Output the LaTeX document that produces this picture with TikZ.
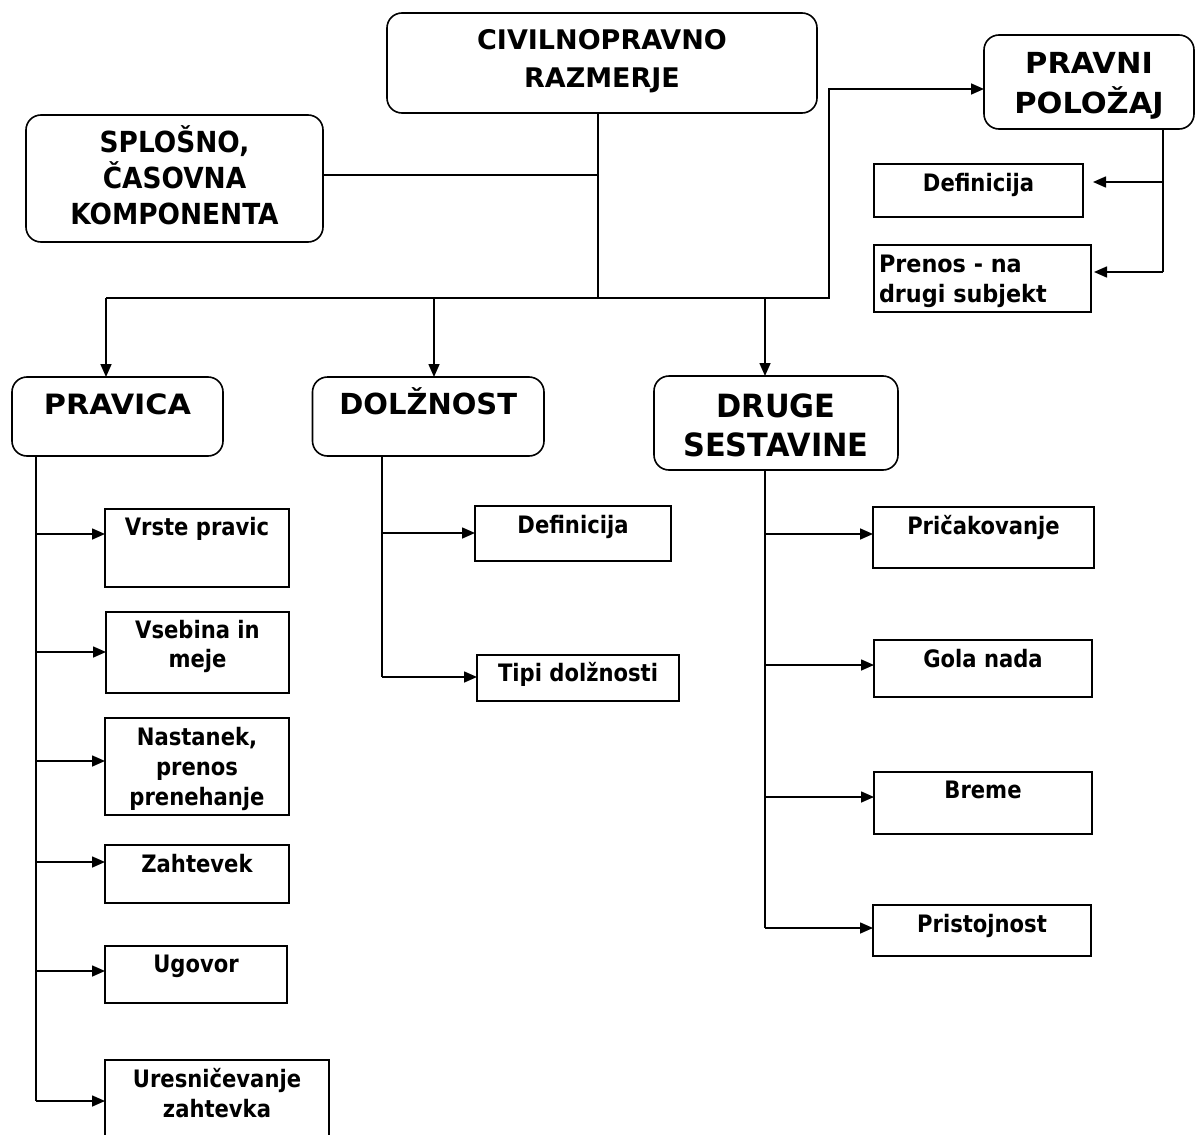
\documentclass[tikz,border=0pt]{standalone}
\usepackage{fontspec}
\setmainfont{DejaVu Sans}
\usetikzlibrary{arrows.meta}
\newcommand\fs[3]{\bfseries\fontsize{#1pt}{#2pt}\selectfont\addfontfeature{FakeStretch=#3}}
\newcommand\fl[1]{\rule{0pt}{#1pt}}
\newcommand\bx[9]{\node[#6, anchor=north west] (#1) at (#2,#3) {\begin{minipage}[t][#5pt][t]{#4pt}#7\fl{#8}#9\end{minipage}};}
\newcommand\sm{\centering\fs{24}{30}{0.88}}
\tikzset{
  box/.style={draw, line width=1.6pt, inner sep=0pt, outer sep=0pt},
  rbox/.style={box, rounded corners=15pt},
  con/.style={line width=1.6pt},
  arr/.style={con, -{Triangle[length=13pt,width=11pt]}}
}
\begin{document}
\begin{tikzpicture}[x=1pt,y=-1pt]
\fill[white] (0,0) rectangle (1195,1135);
\useasboundingbox (0,0) rectangle (1195,1135);
% main boxes
\bx{civ}{387}{13}{430}{100}{rbox}{\centering\fs{27}{38}{1.0}}{36}{CIVILNOPRAVNO\\RAZMERJE}
\bx{spl}{26}{115}{297}{127}{rbox}{\centering\fs{29}{36}{0.91}}{37}{SPLOŠNO,\\ČASOVNA\\KOMPONENTA}
\bx{prv}{984}{35}{210}{94}{rbox}{\centering\fs{29}{40}{1.05}}{38}{PRAVNI\\POLOŽAJ}
\bx{pra}{12}{377}{211}{79}{rbox}{\centering\fs{28}{38}{1.08}}{37}{PRAVICA}
\bx{dol}{312.5}{377}{231.5}{79}{rbox}{\centering\fs{29}{38}{1.0}}{37}{DOLŽNOST}
\bx{dru}{654}{376}{244}{94}{rbox}{\centering\fs{32}{39}{0.95}}{41}{DRUGE\\SESTAVINE}
% pravni polozaj boxes
\bx{pd}{874}{164}{209}{53}{box}{\sm}{27}{Definicija}
\bx{pn}{874}{245}{217}{67}{box}{\raggedright\fs{24}{30}{0.93}\hspace*{5pt}}{27}{Prenos - na\\\hspace*{5pt}drugi subjekt}
% pravica boxes
\bx{vp}{105}{509}{184}{78}{box}{\sm}{26}{Vrste pravic}
\bx{vs}{106}{612}{183}{81}{box}{\centering\fs{24}{29}{0.88}}{26}{Vsebina in\\meje}
\bx{na}{105}{718}{184}{97}{box}{\sm}{27}{Nastanek,\\prenos\\prenehanje}
\bx{za}{105}{845}{184}{58}{box}{\sm}{27}{Zahtevek}
\bx{ug}{105}{946}{182}{57}{box}{\sm}{26}{Ugovor}
\bx{ur}{105}{1060}{224}{90}{box}{\sm}{27}{Uresničevanje\\zahtevka}
% dolznost boxes
\bx{dd}{475}{506}{196}{55}{box}{\sm}{27}{Definicija}
\bx{tp}{477}{655}{202}{46}{box}{\sm}{26}{Tipi dolžnosti}
% druge sestavine boxes
\bx{pc}{873}{507}{221}{61}{box}{\sm}{27}{Pričakovanje}
\bx{gn}{874}{640}{218}{57}{box}{\sm}{27}{Gola nada}
\bx{br}{874}{772}{218}{62}{box}{\sm}{26}{Breme}
\bx{ps}{873}{905}{218}{51}{box}{\sm}{27}{Pristojnost}
% junction coordinates
\coordinate (t1) at (598,298);
\coordinate (sj) at (598,175);
\coordinate (a1) at (106,298);
\coordinate (a2) at (434,298);
\coordinate (a3) at (765,298);
\coordinate (t2) at (829,298);
\coordinate (c89) at (829,89);
\coordinate (q1) at (1163,182);
\coordinate (q2) at (1163,272);
\coordinate (r1) at (36,534);
\coordinate (r2) at (36,652);
\coordinate (r3) at (36,761);
\coordinate (r4) at (36,862);
\coordinate (r5) at (36,971);
\coordinate (r6) at (36,1101);
\coordinate (d1) at (382,533);
\coordinate (d2) at (382,677);
\coordinate (g1) at (765,534);
\coordinate (g2) at (765,665);
\coordinate (g3) at (765,797);
\coordinate (g4) at (765,928);
% top connectors
\draw[con] (civ.south -| t1) -- (t1);
\draw[con] (spl.east |- sj) -- (sj);
\draw[arr] (a1) -- (t2) -- (c89) -- (prv.west |- c89);
\draw[arr] (a1) -- (a1 |- pra.north);
\draw[arr] (a2) -- (a2 |- dol.north);
\draw[arr] (a3) -- (a3 |- dru.north);
% pravni polozaj
\draw[con] (prv.south -| q1) -- (q2);
\draw[arr] (q1) -- ([xshift=10pt]pd.east |- q1);
\draw[arr] (q2) -- ([xshift=3pt]pn.east |- q2);
% pravica
\draw[con] (pra.south -| r1) -- (r6);
\draw[arr] (r1) -- (vp.west |- r1);
\draw[arr] (r2) -- (vs.west |- r2);
\draw[arr] (r3) -- (na.west |- r3);
\draw[arr] (r4) -- (za.west |- r4);
\draw[arr] (r5) -- (ug.west |- r5);
\draw[arr] (r6) -- (ur.west |- r6);
% dolznost
\draw[con] (dol.south -| d1) -- (d2);
\draw[arr] (d1) -- (dd.west |- d1);
\draw[arr] (d2) -- (tp.west |- d2);
% druge sestavine
\draw[con] (dru.south -| g1) -- (g4);
\draw[arr] (g1) -- (pc.west |- g1);
\draw[arr] (g2) -- (gn.west |- g2);
\draw[arr] (g3) -- (br.west |- g3);
\draw[arr] (g4) -- (ps.west |- g4);
\end{tikzpicture}
\end{document}
